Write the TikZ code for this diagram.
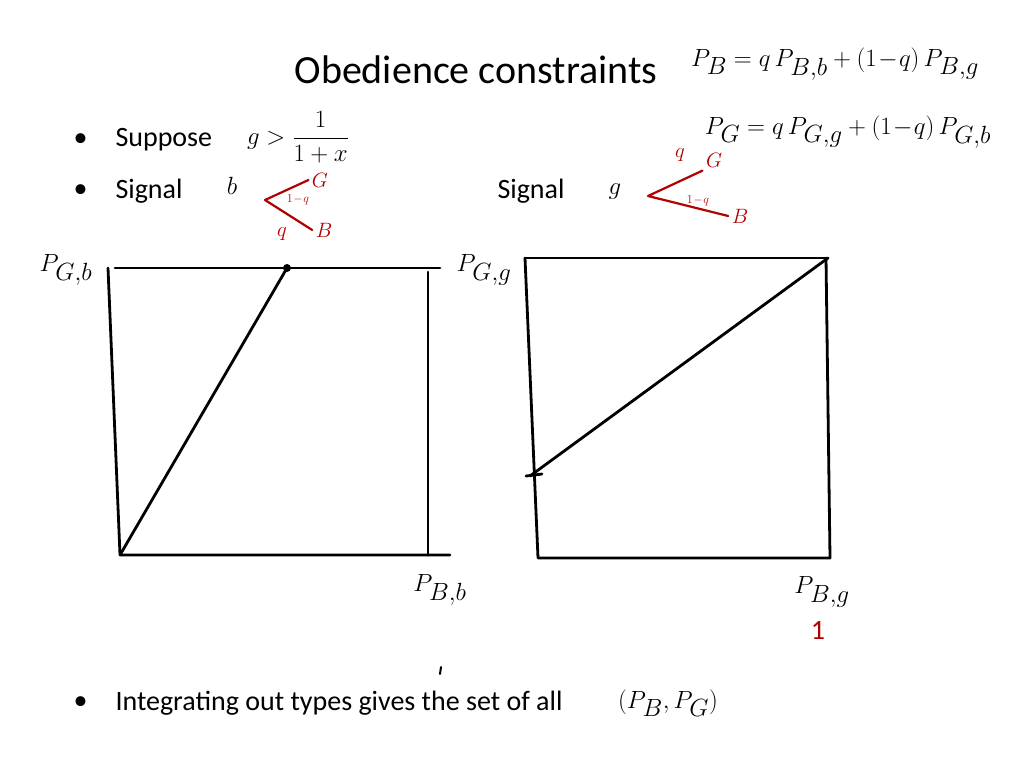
\documentclass[tikz,border=0pt]{standalone}
\usepackage{fontspec}
\setmainfont{Carlito}
\begin{document}
\begin{tikzpicture}[x=1pt,y=-1pt,
 hw/.style={line width=2.8pt,line cap=round,line join=round},
 rd/.style={hw,line width=2.2pt,draw=red!70!black},
 txt/.style={font=\fontsize{28}{32}\selectfont,anchor=west},
 hand/.style={font=\fontsize{34}{36}\selectfont},
 rhand/.style={font=\fontsize{21}{22}\selectfont,text=red!70!black}]
\useasboundingbox (0,0) rectangle (1024,768);
\node[font=\fontsize{40}{44}\selectfont] (title) at (476,70) {Obedience constraints};
\node[txt] (d1) at (70,140) {\textbullet};
\node[txt] (b1) at (112,140) {Suppose};
\node[txt] (d2) at (70,191) {\textbullet};
\node[txt] (b2) at (112,191) {Signal};
\node[txt] (b3) at (494,191) {Signal};
\node[txt] (d4) at (70,703) {\textbullet};
\node[txt] (b4) at (112,703) {Integrating out types gives the set of all};
% equations
\node[hand] (e1) at (835,64) {$P_B = q\,P_{B,b} + (1\!-\!q)\,P_{B,g}$};
\node[hand] (e2) at (848,132) {$P_G = q\,P_{G,g} + (1\!-\!q)\,P_{G,b}$};
\node[hand,font=\fontsize{30}{32}\selectfont] (sup) at (298,137) {$g > \displaystyle\frac{1}{1+x}$};
\node[hand,font=\fontsize{44}{44}\selectfont] (sb) at (232,186) {$b$};
\node[hand,font=\fontsize{44}{44}\selectfont] (sg) at (615,192) {$g$};
\node[hand,font=\fontsize{42}{44}\selectfont] (pair) at (668,703) {$(P_B,P_G)$};
% red trees
\coordinate (rb) at (265,200);
\node[rhand] (Gb) at (320,180) {$G$};
\node[rhand] (Bb) at (324,230) {$B$};
\draw[rd] (Gb.west) -- (rb) -- (Bb.west);
\node[rhand,font=\fontsize{12}{12}\selectfont] (lb1) at (298,200) {$1\!-\!q$};
\node[rhand] (lb2) at (282,234) {$q$};
\coordinate (rg) at (648,196);
\node[rhand] (Gg) at (714,160) {$G$};
\node[rhand] (Bg) at (740,216) {$B$};
\draw[rd] (Gg.south west) -- (rg) -- (Bg.west);
\node[rhand] (lg1) at (680,155) {$q$};
\node[rhand,font=\fontsize{12}{12}\selectfont] (lg2) at (698,201) {$1\!-\!q$};
% left box
\coordinate (L1) at (115,268); \coordinate (L2) at (440,268);
\coordinate (L3) at (108,268); \coordinate (L4) at (120,555);
\coordinate (L5) at (450,555); \coordinate (L6) at (428,272); \coordinate (L7) at (428,555);
\coordinate (Lt) at (287,268);
\draw[hw] (L1) -- (L2); \draw[hw] (L3) -- (L4) -- (L5); \draw[hw] (L6) -- (L7);
\draw[hw] (L4) -- (Lt); \fill (Lt) circle (4pt);
\node[hand] (pgb) at (66,270) {$P_{G,b}$};
\node[hand] (pbb) at (440,590) {$P_{B,b}$};
% right box
\coordinate (R1) at (525,258); \coordinate (R2) at (828,258);
\coordinate (R3) at (538,558); \coordinate (R4) at (830,558);
\coordinate (R5) at (826,258); \coordinate (Rd) at (530,476);
\draw[hw] (R1) -- (R2); \draw[hw] (R1) -- (R3) -- (R4); \draw[hw] (R5) -- (R4);
\draw[hw] (R2) -- (Rd); \draw[hw] (526,476) -- (542,474);
\node[hand] (pgg) at (484,270) {$P_{G,g}$};
\node[hand] (pbg) at (822,592) {$P_{B,g}$};
\node[rhand,font=\fontsize{28}{28}\selectfont] (one) at (818,630) {1};
\draw[hw,line width=2pt] (441,667) -- (440,674);
\end{tikzpicture}
\end{document}
